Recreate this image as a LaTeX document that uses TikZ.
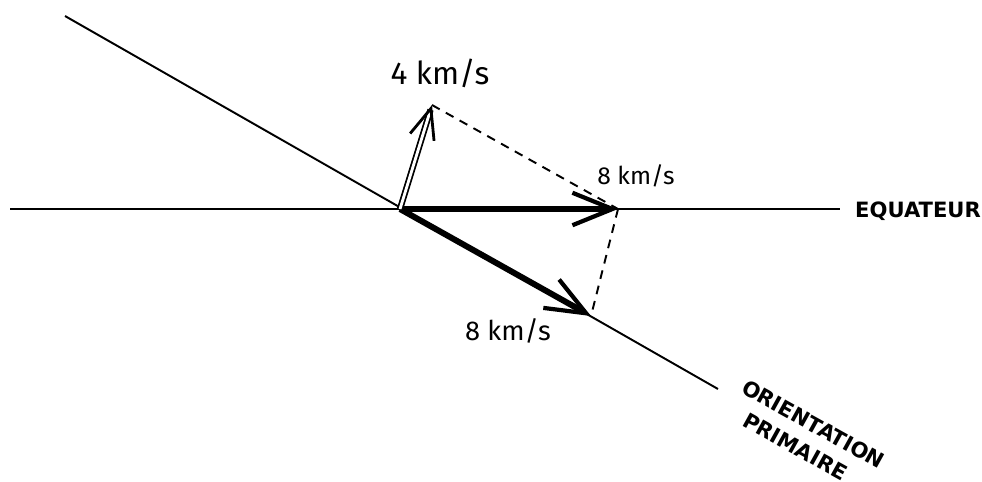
\documentclass[tikz,border=0pt]{standalone}
\usepackage{fontspec}
\setsansfont{Fira Sans}
\newfontfamily\capsfont{DejaVu Sans}
\usetikzlibrary{arrows.meta,positioning,calc}

\tikzset{
  axisline/.style={line width=1.1pt},
  speed/.style={-{Straight Barb[length=8mm,width=6.5mm,line width=2.4pt]}, line width=3.4pt},
  guide/.style={dashed, line width=1.1pt, dash pattern=on 5pt off 4pt},
  lbl/.style={font=\sffamily\fontsize{#1}{#1}\selectfont},
  lbl/.default=18,
  caps/.style={font=\capsfont\bfseries\fontsize{12}{16.2}\selectfont}
}

\begin{document}
\begin{tikzpicture}[x=0.02cm,y=-0.02cm]
    \useasboundingbox (0,0) rectangle (982,481);

    % Points
    \coordinate (O) at (400,209);
    \coordinate (W) at (10,209);
    \coordinate (Eq) at (840,209);
    \coordinate (D1) at (65,16);
    \coordinate (D2) at (718,389);
    \coordinate (V4) at (432,105);
    \coordinate (V8a) at (618,209);
    \coordinate (V8b) at (591,316);

    % Equator and primary orientation
    \draw[axisline] (W) -- (Eq);
    \draw[axisline] (D1) -- (D2);

    % Dashed construction
    \draw[guide] (V4) -- (V8a);
    \draw[guide] (V8a) -- (V8b);

    % Velocity vectors
    \draw[speed] (O) -- (V8a);
    \draw[speed] (O) -- (V8b);
    \draw[double, double distance=1.6pt, line width=1pt,
      -{Straight Barb[length=6mm,width=5mm,line width=1.6pt]}] (O) -- (V4);

    % Labels
    \node[lbl] (l4) at (440,73) {4 km/s};
    \node[lbl=14] (l8a) at (636,176) {8 km/s};
    \node[lbl=15.5] (l8b) at (508,331) {8 km/s};
    \node[caps, anchor=west] (leq) at (849,211) {EQUATEUR};
    \node[caps, rotate=-29, align=left, anchor=base west, inner sep=0pt]
      (lor) at (726,417) {ORIENTATION\\\hspace*{9.6pt}PRIMAIRE};
\end{tikzpicture}
\end{document}
